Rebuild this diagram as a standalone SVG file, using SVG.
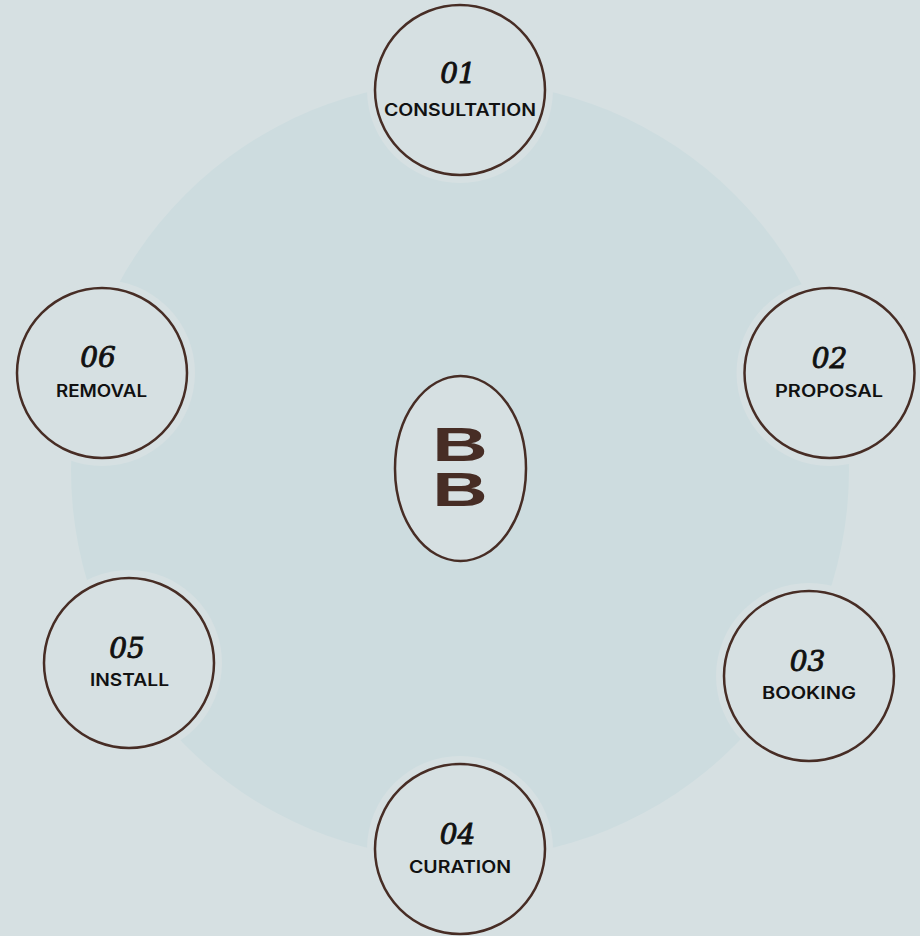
<svg xmlns="http://www.w3.org/2000/svg" width="920" height="936" viewBox="0 0 920 936">
<style>
.bg{fill:#d6e0e2}
.big{fill:#cddcdf}
.halo{fill:#d6e0e2}
.ring{fill:#d6e0e2;stroke:#472d25;stroke-width:2.5}
.num{font-family:"DejaVu Serif","Liberation Serif",serif;font-style:italic;font-weight:normal;font-size:28px;fill:#111;stroke:#111;stroke-width:0.9;text-anchor:middle}
.lbl{font-family:Inter,"Liberation Sans",sans-serif;font-weight:600;font-size:17px;fill:#111;text-anchor:middle}
.logo{font-family:"Liberation Sans",sans-serif;font-weight:bold;font-size:48px;fill:#472d25;text-anchor:middle}
</style>
<rect class="bg" x="0" y="0" width="920" height="936"/>
<circle class="big" cx="460" cy="470" r="389"/>
<g id="connectors"></g>
<g id="center">
<ellipse cx="460.5" cy="468.5" rx="65.5" ry="92.5" fill="#d6e0e2" stroke="#472d25" stroke-width="2.5"/>
<text class="logo" transform="translate(460,0) scale(1.6,1)"><tspan x="0" y="461">B</tspan><tspan x="0" y="506">B</tspan></text>
</g>
<g id="n01">
<circle class="halo" cx="460" cy="90" r="93"/>
<circle class="ring" cx="460" cy="90" r="85"/>
<text class="num" x="458" y="83">01</text>
<text class="lbl" x="460" y="116" textLength="152" lengthAdjust="spacingAndGlyphs">CONSULTATION</text>
</g>
<g id="n02">
<circle class="halo" cx="829.5" cy="373" r="93"/>
<circle class="ring" cx="829.5" cy="373" r="85"/>
<text class="num" x="829.5" y="368">02</text>
<text class="lbl" x="829" y="397" textLength="108" lengthAdjust="spacingAndGlyphs">PROPOSAL</text>
</g>
<g id="n03">
<circle class="halo" cx="809" cy="676" r="93"/>
<circle class="ring" cx="809" cy="676" r="85"/>
<text class="num" x="807.5" y="671">03</text>
<text class="lbl" x="809" y="699" textLength="94" lengthAdjust="spacingAndGlyphs">BOOKING</text>
</g>
<g id="n04">
<circle class="halo" cx="460" cy="849" r="93"/>
<circle class="ring" cx="460" cy="849" r="85"/>
<text class="num" x="457.5" y="844">04</text>
<text class="lbl" x="460" y="873" textLength="102" lengthAdjust="spacingAndGlyphs">CURATION</text>
</g>
<g id="n05">
<circle class="halo" cx="129" cy="663" r="93"/>
<circle class="ring" cx="129" cy="663" r="85"/>
<text class="num" x="127" y="658">05</text>
<text class="lbl" x="129.5" y="686" textLength="79" lengthAdjust="spacingAndGlyphs">INSTALL</text>
</g>
<g id="n06">
<circle class="halo" cx="102" cy="373" r="93"/>
<circle class="ring" cx="102" cy="373" r="85"/>
<text class="num" x="98" y="367">06</text>
<text class="lbl" x="101.5" y="397" textLength="91" lengthAdjust="spacingAndGlyphs">REMOVAL</text>
</g>
</svg>
